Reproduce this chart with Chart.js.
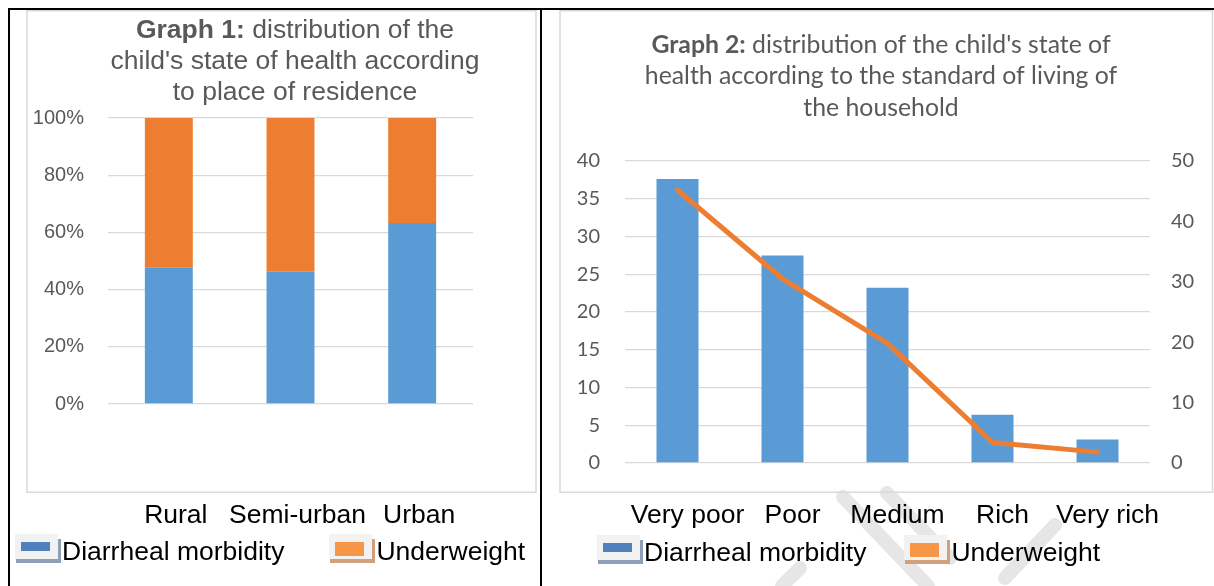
<!DOCTYPE html>
<html>
<head>
<meta charset="utf-8">
<script src="https://cdn.jsdelivr.net/npm/chart.js@4.4.1/dist/chart.umd.min.js"></script>
<style>
  html, body { margin: 0; padding: 0; background: #fff; }
  body { width: 1214px; height: 586px; position: relative; overflow: hidden;
    font-family: "Liberation Sans", Arial, sans-serif; }
  .cell { position: absolute; top: 10px; height: 576px; }
  .rule { position: absolute; background: #000; z-index: 5; }
  .legend { position: absolute; display: flex; align-items: flex-start; white-space: nowrap;
    font-size: 26.5px; color: #000; }
  .legend .item { display: flex; align-items: flex-start; }
  .legend .txt { line-height: 30px; margin-top: 2px; }
  .icon { position: relative; width: 47px; height: 30px; }
  .icon div { position: absolute; }
</style>
</head>
<body>
<div class="cell" style="left:10px;width:530px"><canvas id="residence"></canvas></div>
<div class="cell" style="left:543px;width:671px"><canvas id="living"></canvas></div>
<div class="rule" style="left:8px;top:8px;width:1206px;height:2px"></div>
<div class="rule" style="left:8px;top:8px;width:2px;height:578px"></div>
<div class="rule" style="left:540px;top:8px;width:2px;height:578px"></div>
<div class="legend" id="legend1" style="left:15px;top:534px"></div>
<div class="legend" id="legend2" style="left:597px;top:535px"></div>
<script>
// Graph 1: place of residence (100% stacked)
const residence = ["Rural", "Semi-urban", "Urban"];
const residenceDiarrheal = [47.6, 46.2, 63.3];
const residenceUnderweight = [52.4, 53.8, 36.7];

// Graph 2: standard of living (bars on left axis, line on right axis)
const livingLevels = ["Very poor", "Poor", "Medium", "Rich", "Very rich"];
const livingDiarrheal = [37.6, 27.5, 23.2, 6.4, 3.1];
const livingUnderweight = [45.2, 30.5, 19.8, 3.4, 1.8];

const title1 = [["Graph 1:", " distribution of the"], ["", "child's state of health according"], ["", "to place of residence"]];
const title2 = [["Graph 2:", " distribution of the child's state of"], ["", "health according to the standard of living of"], ["", "the household"]];

const ARIAL = '"Liberation Sans", Arial, sans-serif';
const CALIBRI = 'Lato, "Open Sans", sans-serif';
const BLUE = "#5B9BD5";
const ORANGE = "#ED7D31";
const GRID = "#D9D9D9";
const TEXT = "#595959";

Chart.defaults.font.family = ARIAL;
Chart.defaults.color = TEXT;

// Swatch styles for the legend icons (shadowed boxes like the Word legend)
const swatches = {
  "Diarrheal morbidity": { fill: "#4F81BD", shadow: "#8E9FB8", h: 9, top: 8 },
  "Underweight": { fill: "#F79646", shadow: "#D1A07C", h: 14, top: 8 },
};

// Faint diagonal strokes of the page watermark (behind the right chart)
const watermarkStrokes = [
  [300, 487, 385, 576],
  [344, 483, 407, 548],
  [512, 515, 462, 568],
  [257, 558, 239, 576],
];

// Grey chart frame (+ optional watermark strokes)
const framePlugin = {
  id: "frame",
  beforeDraw(chart, args, opts) {
    const ctx = chart.ctx;
    ctx.save();
    if (opts.watermark) {
      ctx.strokeStyle = "#E6E6E6";
      ctx.lineWidth = 14;
      ctx.lineCap = "round";
      opts.watermark.forEach((s) => {
        ctx.beginPath();
        ctx.moveTo(s[0], s[1]);
        ctx.lineTo(s[2], s[3]);
        ctx.stroke();
      });
    }
    ctx.strokeStyle = GRID;
    ctx.lineWidth = 1.5;
    ctx.strokeRect(opts.rect[0], opts.rect[1], opts.rect[2], opts.rect[3]);
    ctx.restore();
  },
};

// Title with a bold lead-in on the first line
const headingPlugin = {
  id: "heading",
  afterDraw(chart, args, opts) {
    const ctx = chart.ctx;
    ctx.save();
    ctx.fillStyle = TEXT;
    ctx.textBaseline = "middle";
    ctx.textAlign = "left";
    opts.lines.forEach((line, i) => {
      const bold = "bold " + opts.size + "px " + opts.family;
      const normal = opts.size + "px " + opts.family;
      ctx.font = bold;
      const wb = ctx.measureText(line[0]).width;
      ctx.font = normal;
      const wr = ctx.measureText(line[1]).width;
      const x = opts.x - (wb + wr) / 2;
      const y = opts.y + i * opts.lineHeight;
      ctx.font = bold;
      ctx.fillText(line[0], x, y);
      ctx.font = normal;
      ctx.fillText(line[1], x + wb, y);
    });
    ctx.restore();
  },
};

function buildLegend(el, datasets, gap) {
  datasets.forEach((ds, i) => {
    const s = swatches[ds.label];
    const item = document.createElement("div");
    item.className = "item";
    if (i > 0) item.style.marginLeft = gap + "px";
    item.innerHTML =
      '<div class="icon">' +
      '<div style="left:1px;top:5px;width:45px;height:24px;background:' + s.shadow + '"></div>' +
      '<div style="left:0;top:0;width:43px;height:25px;background:#F2F2F2"></div>' +
      '<div style="left:6px;top:' + s.top + 'px;width:29px;height:' + s.h + 'px;background:' + s.fill + '"></div>' +
      "</div>" +
      '<span class="txt">' + ds.label + "</span>";
    el.appendChild(item);
  });
}

const catTicks = { color: "#000", maxRotation: 0, minRotation: 0, autoSkip: false,
  font: { size: 26.5, family: ARIAL } };

// Fix the category axis height and drop its side padding so the plot keeps its width
function fixCategoryAxis(height) {
  return (s) => {
    s.height = height;
    s.paddingLeft = 0;
    s.paddingRight = 0;
  };
}

const chart1 = new Chart(document.getElementById("residence"), {
  type: "bar",
  plugins: [framePlugin, headingPlugin],
  data: {
    labels: residence,
    datasets: [
      { label: "Diarrheal morbidity", data: residenceDiarrheal, backgroundColor: BLUE },
      { label: "Underweight", data: residenceUnderweight, backgroundColor: ORANGE },
    ],
  },
  options: {
    responsive: true,
    maintainAspectRatio: false,
    animation: false,
    layout: { padding: { top: 108, right: 67, bottom: 0, left: 0 } },
    datasets: { bar: { barPercentage: 0.394, categoryPercentage: 1 } },
    scales: {
      x: {
        stacked: true,
        grid: { display: false },
        border: { display: false },
        ticks: { ...catTicks, padding: 88, labelOffset: 7 },
        afterFit: fixCategoryAxis(182),
      },
      y: {
        stacked: true,
        min: 0,
        max: 100,
        grid: { color: GRID, lineWidth: 1.3, drawTicks: false },
        border: { display: false },
        ticks: {
          stepSize: 20,
          padding: 24,
          color: TEXT,
          font: { size: 20, family: ARIAL },
          callback: (v) => v + "%",
        },
        afterFit: (s) => { s.width = 98; },
      },
    },
    plugins: {
      legend: { display: false },
      tooltip: { enabled: false },
      frame: { rect: [17, 0.75, 509, 481.5] },
      heading: { lines: title1, x: 285, y: 21, lineHeight: 31, size: 26.5, family: ARIAL },
    },
  },
});

const chart2 = new Chart(document.getElementById("living"), {
  type: "bar",
  plugins: [framePlugin, headingPlugin],
  data: {
    labels: livingLevels,
    datasets: [
      { type: "line", label: "Underweight", data: livingUnderweight, yAxisID: "y2",
        borderColor: ORANGE, borderWidth: 5, pointRadius: 0, tension: 0,
        borderCapStyle: "round", borderJoinStyle: "round", order: 1 },
      { label: "Diarrheal morbidity", data: livingDiarrheal, yAxisID: "y",
        backgroundColor: BLUE, barPercentage: 0.4, categoryPercentage: 1, order: 2 },
    ],
  },
  options: {
    responsive: true,
    maintainAspectRatio: false,
    animation: false,
    layout: { padding: { top: 151, right: 0, bottom: 0, left: 0 } },
    scales: {
      x: {
        grid: { display: false },
        border: { display: false },
        ticks: { ...catTicks, padding: 29, labelOffset: 10 },
        afterFit: fixCategoryAxis(123),
      },
      y: {
        position: "left",
        min: 0,
        max: 40,
        grid: { color: GRID, lineWidth: 1.3, drawTicks: false },
        border: { display: false },
        ticks: { stepSize: 5, padding: 25, color: TEXT, font: { size: 20, family: CALIBRI } },
        afterFit: (s) => { s.width = 82; },
      },
      y2: {
        position: "right",
        min: 0,
        max: 50,
        grid: { drawOnChartArea: false, drawTicks: false },
        border: { display: false },
        ticks: { stepSize: 10, padding: 21, color: TEXT, font: { size: 20, family: CALIBRI } },
        afterFit: (s) => { s.width = 64; },
      },
    },
    plugins: {
      legend: { display: false },
      tooltip: { enabled: false },
      frame: { rect: [17, 0.75, 652.5, 481.5], watermark: watermarkStrokes },
      heading: { lines: title2, x: 338, y: 35, lineHeight: 31.5, size: 24.8, family: CALIBRI },
    },
  },
});

// Legend order as in the picture: bars first, then underweight
buildLegend(document.getElementById("legend1"), chart1.data.datasets, 45);
buildLegend(document.getElementById("legend2"), [chart2.data.datasets[1], chart2.data.datasets[0]], 38);
</script>
</body>
</html>
